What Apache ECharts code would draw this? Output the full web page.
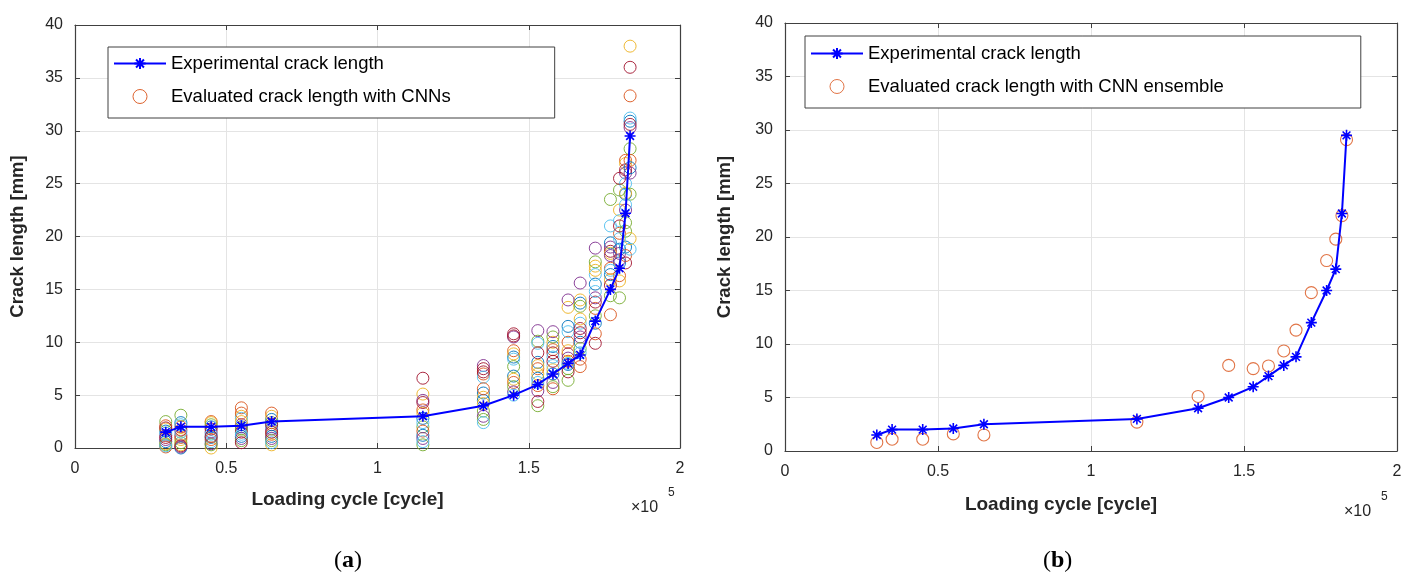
<!DOCTYPE html>
<html>
<head>
<meta charset="utf-8">
<script src="https://cdn.jsdelivr.net/npm/echarts@6/dist/echarts.min.js"></script>
<style>
html,body{margin:0;padding:0;background:#fff;}
#chart{width:1409px;height:575px;}
</style>
</head>
<body>
<div id="chart"></div>
<script>
// ---- data ----
const expCycles = [30000, 35000, 45000, 55000, 65000, 115000, 135000, 145000, 153000, 158000, 163000, 167000, 172000, 177000, 180000, 182000, 183500];
const expCrack = [1.5, 2.0, 2.0, 2.1, 2.5, 3.0, 4.0, 5.0, 6.0, 7.0, 8.0, 8.8, 12.0, 15.0, 17.0, 22.2, 29.5];
const ensembleCrack = [0.8, 1.1, 1.1, 1.6, 1.5, 2.7, 5.1, 8.0, 7.7, 7.95, 9.35, 11.3, 14.8, 17.8, 19.8, 22.0, 29.1];

// 14 CNN estimates at each loading cycle (one value per CNN)
const cnnAt30k  = [1.6, 2.1, 1.8, 1.2, 2.5, 1.4, 1.9, 0.6, 0.1, 0.4, 0.8, 0.3, 0.2, 1.0];
const cnnAt35k  = [2.4, 2.0, 0.8, 1.2, 3.1, 2.2, 1.7, 0.0, 1.0, 0.3, 0.1, 0.5, 1.5, 0.2];
const cnnAt45k  = [2.0, 2.5, 2.4, 1.5, 2.2, 0.6, 1.8, 1.0, 0.8, 0.0, 0.4, 0.3, 1.3, 1.1];
const cnnAt55k  = [2.0, 3.8, 3.0, 2.2, 1.8, 2.8, 1.5, 1.1, 3.3, 2.5, 0.9, 0.7, 1.3, 0.5];
const cnnAt65k  = [2.7, 3.3, 3.0, 1.8, 2.4, 2.0, 2.2, 1.1, 1.3, 0.3, 0.9, 0.7, 0.5, 1.5];
const cnnAt115k = [2.8, 3.6, 5.1, 4.5, 2.0, 2.4, 6.6, 1.2, 1.6, 3.3, 0.9, 0.3, 0.6, 4.3];
const cnnAt135k = [5.2, 7.0, 4.8, 7.8, 3.5, 6.7, 7.5, 4.5, 5.6, 4.2, 3.0, 2.7, 2.4, 7.2];
const cnnAt145k = [8.6, 9.2, 8.9, 10.5, 7.7, 8.4, 10.8, 6.8, 6.2, 6.5, 5.3, 5.8, 5.0, 10.6];
const cnnAt153k = [8.1, 7.5, 7.8, 11.1, 10.1, 9.9, 9.0, 6.6, 5.9, 7.0, 5.4, 4.0, 6.2, 4.4];
const cnnAt158k = [9.6, 9.3, 10.0, 11.0, 10.5, 7.8, 9.0, 7.0, 5.6, 7.4, 6.2, 5.8, 8.6, 8.2];
const cnnAt163k = [11.5, 10.0, 13.3, 14.0, 7.5, 11.0, 8.9, 7.9, 8.2, 9.2, 8.5, 6.4, 8.0, 7.2];
const cnnAt167k = [13.7, 8.4, 14.0, 15.6, 13.4, 11.8, 11.3, 10.0, 7.7, 12.2, 10.5, 9.4, 9.0, 10.9];
const cnnAt172k = [15.5, 13.2, 17.2, 18.9, 17.6, 16.4, 13.8, 11.8, 10.8, 16.8, 14.2, 12.5, 14.8, 9.9];
const cnnAt177k = [19.4, 17.0, 15.9, 19.0, 23.5, 21.0, 18.6, 16.4, 12.6, 18.4, 18.2, 14.4, 16.8, 15.4];
const cnnAt180k = [17.5, 20.3, 22.5, 18.4, 24.4, 21.5, 25.5, 18.8, 16.3, 15.8, 17.8, 14.2, 19.8, 21.0];
const cnnAt182k = [24.0, 27.2, 26.9, 26.0, 20.5, 25.0, 26.3, 19.0, 18.2, 24.1, 22.5, 21.3, 23.0, 17.5];
const cnnAt1835k = [30.9, 33.3, 38.0, 30.3, 28.3, 31.2, 36.0, 26.5, 27.2, 19.8, 26.0, 24.0, 18.8, 30.6];

const xTickLabels = ['0', '0.5', '1', '1.5', '2'];
const yTickLabels = ['0', '5', '10', '15', '20', '25', '30', '35', '40'];

const cnnColumns = [cnnAt30k, cnnAt35k, cnnAt45k, cnnAt55k, cnnAt65k, cnnAt115k, cnnAt135k, cnnAt145k,
  cnnAt153k, cnnAt158k, cnnAt163k, cnnAt167k, cnnAt172k, cnnAt177k, cnnAt180k, cnnAt182k, cnnAt1835k];

// ---- styles ----
const cnnColors = ['#0072BD', '#D95319', '#EDB120', '#7E2F8E', '#77AC30', '#4DBEEE', '#A2142F'];
const axisColor = '#404040';
const textColor = '#262626';
const gridColor = '#e4e4e4';
const sans = '"Liberation Sans", Arial, Helvetica, sans-serif';
const serif = '"Liberation Serif", "Times New Roman", serif';
const starPath = 'path://M10,0 L10,20 M0,10 L20,10 M2.93,2.93 L17.07,17.07 M2.93,17.07 L17.07,2.93';

const NAME_EXP = 'Experimental crack length';
const NAME_CNN = 'Evaluated crack length with CNNs';
const NAME_ENS = 'Evaluated crack length with CNN ensemble';

function xAxes(gridIndex, gap) {
  return [{
    type: 'value', gridIndex, min: 0, max: 200000, interval: 50000, position: 'bottom',
    axisLine: { show: true, onZero: false, lineStyle: { color: axisColor, width: 1.2 } },
    axisTick: { show: true, inside: true, length: 5, lineStyle: { color: axisColor } },
    axisLabel: { color: textColor, fontSize: 16, fontFamily: sans, margin: 13,
      formatter: v => xTickLabels[Math.round(v / 50000)] },
    splitLine: { show: true, lineStyle: { color: gridColor, width: 1 } },
    name: 'Loading cycle [cycle]', nameLocation: 'middle', nameGap: gap,
    nameTextStyle: { color: textColor, fontSize: 19, fontWeight: 'bold', fontFamily: sans, padding: [0, 60, 0, 0] }
  }, {
    type: 'value', gridIndex, min: 0, max: 200000, interval: 50000, position: 'top',
    axisLine: { show: true, onZero: false, lineStyle: { color: axisColor, width: 1.2 } },
    axisTick: { show: true, inside: true, length: 5, lineStyle: { color: axisColor } },
    axisLabel: { show: false }, splitLine: { show: false }
  }];
}
function yAxes(gridIndex, gap) {
  return [{
    type: 'value', gridIndex, min: 0, max: 40, interval: 5, position: 'left',
    axisLine: { show: true, onZero: false, lineStyle: { color: axisColor, width: 1.2 } },
    axisTick: { show: true, inside: true, length: 5, lineStyle: { color: axisColor } },
    axisLabel: { color: textColor, fontSize: 16, fontFamily: sans, margin: 12,
      formatter: v => yTickLabels[Math.round(v / 5)] },
    splitLine: { show: true, lineStyle: { color: gridColor, width: 1 } },
    name: 'Crack length [mm]', nameLocation: 'middle', nameGap: gap, nameRotate: 90,
    nameTextStyle: { color: textColor, fontSize: 18.5, fontWeight: 'bold', fontFamily: sans }
  }, {
    type: 'value', gridIndex, min: 0, max: 40, interval: 5, position: 'right',
    axisLine: { show: true, onZero: false, lineStyle: { color: axisColor, width: 1.2 } },
    axisTick: { show: true, inside: true, length: 5, lineStyle: { color: axisColor } },
    axisLabel: { show: false }, splitLine: { show: false }
  }];
}

function expSeries(axisIdx) {
  return {
    type: 'line', name: NAME_EXP, xAxisIndex: axisIdx, yAxisIndex: axisIdx, z: 10,
    data: expCycles.map((x, i) => [x, expCrack[i]]),
    symbol: starPath, symbolSize: 11, showSymbol: true,
    lineStyle: { color: '#0000FF', width: 2 },
    itemStyle: { color: '#0000FF', borderColor: '#0000FF', borderWidth: 1.6 },
    emphasis: { disabled: true }, animation: false
  };
}

const series = [];
for (let k = 0; k < 14; k++) {
  const c = cnnColors[k % 7];
  series.push({
    type: 'scatter', name: NAME_CNN, xAxisIndex: 0, yAxisIndex: 0, z: 2,
    data: expCycles.map((x, i) => [x, cnnColumns[i][k]]),
    symbol: 'circle', symbolSize: 12,
    itemStyle: { color: 'rgba(0,0,0,0)', borderColor: c, borderWidth: 1, opacity: 0.9 },
    emphasis: { disabled: true }, animation: false
  });
}
series.push(expSeries(0));
series.push({
  type: 'scatter', name: NAME_ENS, xAxisIndex: 2, yAxisIndex: 2, z: 2,
  data: expCycles.map((x, i) => [x, ensembleCrack[i]]),
  symbol: 'circle', symbolSize: 12,
  itemStyle: { color: 'rgba(0,0,0,0)', borderColor: '#D95319', borderWidth: 1.1 },
  emphasis: { disabled: true }, animation: false
});
series.push(expSeries(2));

const legendCommon = {
  orient: 'vertical', itemWidth: 52, itemHeight: 14, itemGap: 14,
  borderColor: '#404040', borderWidth: 1, backgroundColor: '#fff',
  textStyle: { color: '#000', fontSize: 18.5, fontFamily: sans },
  selectedMode: false
};

const option = {
  animation: false,
  grid: [
    { left: 75, top: 25, width: 605, height: 423 },
    { left: 785, top: 23, width: 612, height: 428 }
  ],
  xAxis: [...xAxes(0, 42), ...xAxes(1, 44)],
  yAxis: [...yAxes(0, 48), ...yAxes(1, 51)],
  legend: [
    Object.assign({}, legendCommon, {
      left: 108, top: 47, padding: [7, 104, 12, 5],
      data: [NAME_EXP, { name: NAME_CNN, icon: 'circle', itemStyle: { color: 'rgba(0,0,0,0)', borderColor: '#D95319', borderWidth: 1 } }]
    }),
    Object.assign({}, legendCommon, {
      left: 805, top: 36, padding: [8, 137, 12, 5],
      data: [NAME_EXP, { name: NAME_ENS, icon: 'circle', itemStyle: { color: 'rgba(0,0,0,0)', borderColor: '#D95319', borderWidth: 1 } }]
    })
  ],
  graphic: [
    { type: 'text', left: 631, top: 500, style: { text: '×10', fontSize: 16, fontFamily: sans, fill: textColor } },
    { type: 'text', left: 668, top: 487, style: { text: '5', fontSize: 12, fontFamily: sans, fill: textColor } },
    { type: 'text', left: 1344, top: 504, style: { text: '×10', fontSize: 16, fontFamily: sans, fill: textColor } },
    { type: 'text', left: 1381, top: 491, style: { text: '5', fontSize: 12, fontFamily: sans, fill: textColor } },
    { type: 'text', left: 334, top: 549, style: { text: '{p|(}{b|a}{p|)}',
      rich: { p: { fontSize: 24, fontFamily: serif, fill: '#000' }, b: { fontSize: 24, fontWeight: 'bold', fontFamily: serif, fill: '#000' } } } },
    { type: 'text', left: 1043, top: 549, style: { text: '{p|(}{b|b}{p|)}',
      rich: { p: { fontSize: 24, fontFamily: serif, fill: '#000' }, b: { fontSize: 24, fontWeight: 'bold', fontFamily: serif, fill: '#000' } } } }
  ],
  series
};

const chart = echarts.init(document.getElementById('chart'), null, { renderer: 'canvas' });
chart.setOption(option);
</script>
</body>
</html>
